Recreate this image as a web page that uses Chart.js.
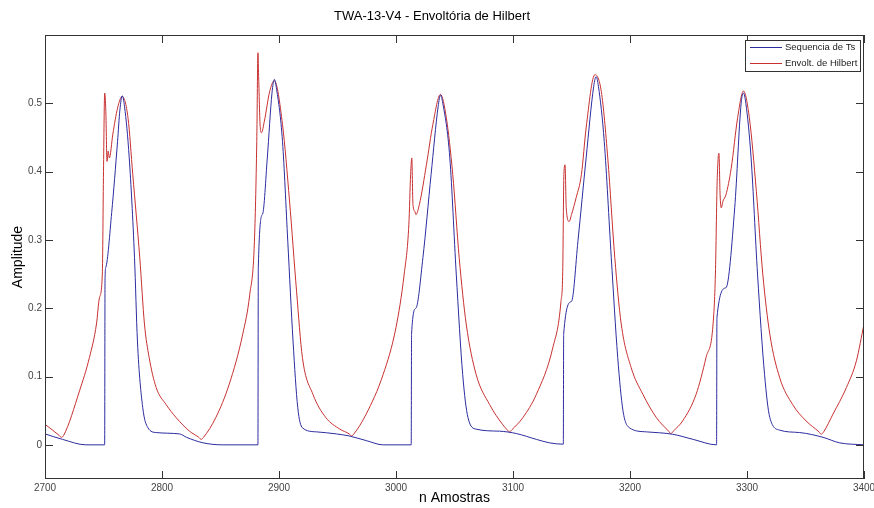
<!DOCTYPE html>
<html lang="pt">
<head>
<meta charset="UTF-8" />
<title>TWA-13-V4 - Envoltória de Hilbert</title>
<script src="https://cdn.jsdelivr.net/npm/chart.js"></script>
<style>
  body { margin: 0; background: #fff; }
  canvas { display: block; }
</style>
</head>
<body>
<canvas id="grafico" width="874" height="508"></canvas>
<script>
  // Sequencia de Ts (azul)
  const seqX = [2700, 2715, 2735, 2751, 2751.3, 2752, 2757, 2762, 2764, 2766, 2768, 2772, 2776.5, 2779, 2783.5, 2788, 2795, 2815, 2821, 2835, 2852, 2882,
    2882.3, 2886, 2890, 2894, 2896, 2898, 2903, 2907.5, 2912, 2916, 2920, 2932, 2949, 2960, 2975, 2989, 3013,
    3013.3, 3017, 3023, 3030, 3036, 3038, 3040, 3046, 3051.5, 3057, 3061.5, 3068.5, 3088.5, 3103, 3120, 3131, 3143,
    3143.3, 3150, 3155.5, 3162.5, 3169, 3171, 3173, 3178, 3184, 3189.5, 3194, 3199.5, 3214, 3236.5, 3254, 3274,
    3274.3, 3282, 3289.5, 3295, 3297, 3299, 3303.5, 3309, 3315, 3319.5, 3328, 3345, 3365, 3379, 3400];
  const seqY = [0.016, 0.008, 0.0, 0.0, 0.24, 0.26, 0.34, 0.444, 0.49, 0.511, 0.495, 0.42, 0.274, 0.152, 0.055, 0.025, 0.018, 0.016, 0.011, 0.003, 0.0, 0.0,
    0.259, 0.338, 0.42, 0.515, 0.535, 0.52, 0.444, 0.298, 0.152, 0.055, 0.025, 0.019, 0.016, 0.013, 0.006, 0.0, 0.0,
    0.162, 0.2, 0.274, 0.396, 0.495, 0.512, 0.5, 0.42, 0.25, 0.103, 0.04, 0.023, 0.02, 0.0165, 0.008, 0.003, 0.001,
    0.162, 0.21, 0.298, 0.42, 0.525, 0.539, 0.525, 0.444, 0.274, 0.128, 0.05, 0.025, 0.019, 0.0155, 0.008, 0.0,
    0.186, 0.23, 0.347, 0.5, 0.515, 0.5, 0.42, 0.25, 0.103, 0.04, 0.0215, 0.018, 0.011, 0.003, 0.0];

  // Envolt. de Hilbert (vermelho)
  const envX = [2700, 2712, 2714, 2716, 2729.5, 2738, 2744, 2746.5, 2749, 2750, 2751, 2752, 2753, 2754, 2755, 2758, 2762, 2766, 2771, 2775, 2781, 2785, 2789, 2795, 2803.5, 2812, 2823.5, 2831.5, 2833.5, 2835.5,
    2846, 2857.5, 2869, 2875, 2879, 2881, 2882, 2882.5, 2884, 2885, 2887.5, 2892, 2896, 2903, 2909, 2915, 2920, 2929, 2940, 2952, 2960, 2962, 2964,
    2974.5, 2989, 3000, 3007, 3011, 3012.5, 3013.5, 3014.5, 3016, 3017, 3020, 3026, 3031.5, 3038, 3043, 3048.5, 3054, 3060, 3068.5, 3080, 3091, 3095, 3097, 3099,
    3108.5, 3120, 3134, 3141, 3142.5, 3143.5, 3144.5, 3145.5, 3148, 3150, 3154, 3158.5, 3162.5, 3170, 3175.5, 3181, 3187, 3192.5, 3201, 3211, 3222.5, 3233, 3235, 3237,
    3245, 3256.5, 3265, 3271, 3273, 3274.5, 3276, 3277, 3278, 3279.5, 3282, 3286.5, 3292, 3297, 3302, 3308, 3313.5, 3319.5, 3328, 3339, 3350.5, 3361.5, 3363.5, 3365.5,
    3373.5, 3385, 3393.5, 3400];
  const envY = [0.030, 0.014, 0.011, 0.014, 0.079, 0.128, 0.177, 0.215, 0.25, 0.40, 0.515, 0.488, 0.415, 0.43, 0.42, 0.455, 0.493, 0.51, 0.478, 0.396, 0.274, 0.177, 0.128, 0.084, 0.059, 0.040, 0.020, 0.011, 0.008, 0.011,
    0.040, 0.089, 0.162, 0.22, 0.298, 0.444, 0.574, 0.545, 0.464, 0.457, 0.474, 0.517, 0.533, 0.469, 0.357, 0.225, 0.128, 0.074, 0.040, 0.023, 0.016, 0.013, 0.016,
    0.045, 0.103, 0.172, 0.25, 0.323, 0.396, 0.42, 0.352, 0.342, 0.337, 0.352, 0.41, 0.469, 0.513, 0.479, 0.396, 0.274, 0.177, 0.103, 0.059, 0.030, 0.022, 0.019, 0.022,
    0.040, 0.074, 0.142, 0.21, 0.254, 0.396, 0.41, 0.347, 0.327, 0.337, 0.362, 0.396, 0.464, 0.542, 0.517, 0.42, 0.274, 0.177, 0.113, 0.074, 0.040, 0.020, 0.0165, 0.020,
    0.035, 0.074, 0.128, 0.177, 0.25, 0.386, 0.427, 0.366, 0.347, 0.357, 0.366, 0.405, 0.479, 0.518, 0.479, 0.371, 0.25, 0.162, 0.098, 0.059, 0.035, 0.019, 0.0155, 0.019,
    0.045, 0.084, 0.123, 0.177];

  const xTicks = [2700, 2800, 2900, 3000, 3100, 3200, 3300, 3400];
  const yTicks = [0, 0.1, 0.2, 0.3, 0.4, 0.5];

  const fonte = "'Liberation Sans', Arial, sans-serif";

  function pares(xs, ys) {
    return xs.map((x, i) => ({ x, y: ys[i] }));
  }

  // moldura, ticks para dentro e legenda no canto (estilo MATLAB)
  const moldura = {
    id: 'moldura',
    afterDraw(chart) {
      const { ctx, chartArea: a, scales: { x, y } } = chart;
      const tl = 8;
      ctx.save();
      ctx.strokeStyle = '#333';
      ctx.lineWidth = 1;
      ctx.beginPath();
      xTicks.forEach(v => {
        const px = Math.round(x.getPixelForValue(v)) + 0.5;
        ctx.moveTo(px, a.bottom); ctx.lineTo(px, a.bottom - tl);
        ctx.moveTo(px, a.top); ctx.lineTo(px, a.top + tl);
      });
      yTicks.forEach(v => {
        const py = Math.round(y.getPixelForValue(v)) + 0.5;
        ctx.moveTo(a.left, py); ctx.lineTo(a.left + tl, py);
        ctx.moveTo(a.right, py); ctx.lineTo(a.right - tl, py);
      });
      ctx.stroke();
      ctx.strokeRect(a.left + 0.5, a.top + 0.5, a.width - 1, a.height - 1);

      // legenda
      const lx = 745.5, ly = 40.5, lw = 115, lh = 31;
      ctx.fillStyle = '#fff';
      ctx.fillRect(lx, ly, lw, lh);
      ctx.strokeStyle = '#333';
      ctx.strokeRect(lx, ly, lw, lh);
      ctx.font = '9.5px ' + fonte;
      ctx.textBaseline = 'middle';
      chart.data.datasets.forEach((ds, i) => {
        const yy = 47.5 + i * 16;
        ctx.strokeStyle = ds.borderColor;
        ctx.beginPath();
        ctx.moveTo(750, yy); ctx.lineTo(782, yy);
        ctx.stroke();
        ctx.fillStyle = '#222';
        ctx.fillText(ds.label, 785, yy);
      });
      ctx.restore();
    }
  };

  new Chart(document.getElementById('grafico'), {
    type: 'line',
    data: {
      datasets: [{
        label: 'Sequencia de Ts',
        data: pares(seqX, seqY),
        borderColor: '#2c2ca0',
        borderWidth: 1,
        pointRadius: 0,
        cubicInterpolationMode: 'monotone'
      }, {
        label: 'Envolt. de Hilbert',
        data: pares(envX, envY),
        borderColor: '#c83030',
        borderWidth: 1,
        pointRadius: 0,
        cubicInterpolationMode: 'monotone'
      }]
    },
    options: {
      responsive: false,
      animation: false,
      devicePixelRatio: 1,
      layout: { padding: { left: 0, right: 10, top: 0, bottom: 0 } },
      plugins: {
        legend: { display: false },
        tooltip: { enabled: false },
        title: {
          display: true,
          text: 'TWA-13-V4 - Envoltória de Hilbert',
          color: '#000',
          font: { family: fonte, size: 13, weight: 'normal' },
          padding: { top: 9, bottom: 10.4 }
        }
      },
      scales: {
        x: {
          type: 'linear',
          min: 2700,
          max: 3400,
          grid: { display: false, drawTicks: false },
          border: { display: false },
          afterBuildTicks: s => { s.ticks = xTicks.map(v => ({ value: v })); },
          afterFit: s => { s.height = 29; s.paddingLeft = 0; s.paddingRight = 0; },
          ticks: {
            color: '#444',
            font: { family: fonte, size: 10 },
            padding: 3,
            maxRotation: 0,
            autoSkip: false,
            callback: v => String(v)
          },
          title: {
            display: true,
            text: 'n Amostras',
            color: '#000',
            font: { family: fonte, size: 14 },
            padding: { top: 0, bottom: 1 }
          }
        },
        y: {
          min: -0.05,
          max: 0.6,
          grid: { display: false, drawTicks: false },
          border: { display: false },
          afterBuildTicks: s => { s.ticks = yTicks.map(v => ({ value: v })); },
          afterFit: s => { s.width = 45; },
          ticks: {
            color: '#444',
            font: { family: fonte, size: 10 },
            padding: 3,
            callback: v => String(+v.toFixed(1))
          },
          title: {
            display: true,
            text: 'Amplitude',
            color: '#000',
            font: { family: fonte, size: 14 },
            padding: { top: 10, bottom: 0 }
          }
        }
      }
    },
    plugins: [moldura]
  });
</script>
</body>
</html>
